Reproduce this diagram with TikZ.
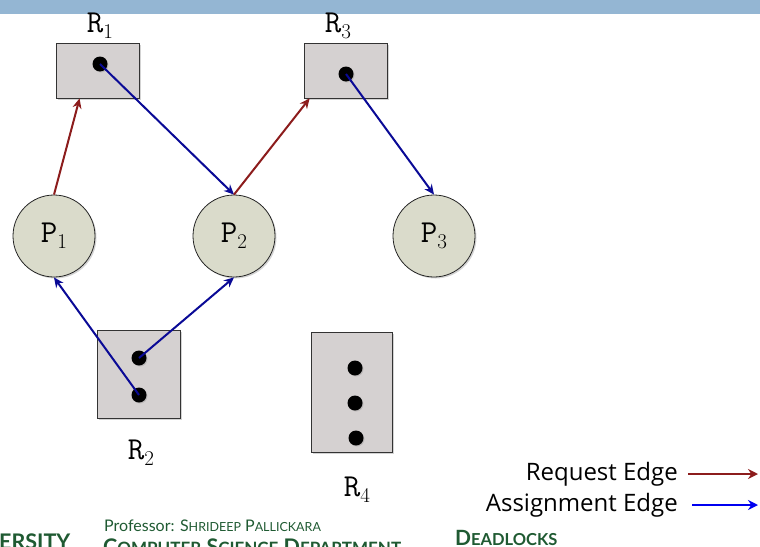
\documentclass[tikz,border=0pt]{standalone}
\usepackage{fontspec}
\newfontfamily\legendfont{Open Sans}
\newfontfamily\footfont{Lato}
\usetikzlibrary{arrows.meta,shadows}
\definecolor{barblue}{HTML}{94B6D3}
\definecolor{boxgray}{HTML}{D5D1D1}
\definecolor{procfill}{HTML}{DADBCB}
\definecolor{reqred}{HTML}{8C1C1C}
\definecolor{asgblue}{HTML}{0A0A96}
\definecolor{legblue}{HTML}{0000F0}
\definecolor{footgreen}{HTML}{1F5A32}
\newcommand{\lsub}[1]{\raisebox{-6pt}{\rmfamily\fontsize{21}{21}\selectfont #1}}
\tikzset{
  resbox/.style={draw=black!80, line width=0.8pt, fill=boxgray, inner sep=0pt,
    drop shadow={shadow xshift=1.5pt, shadow yshift=-1.5pt, opacity=0.35}},
  proc/.style={circle, draw=black!85, line width=0.8pt, fill=procfill, minimum size=82pt, inner sep=0pt,
    font=\ttfamily\fontsize{32}{32}\selectfont,
    drop shadow={shadow xshift=1.5pt, shadow yshift=-1.5pt, opacity=0.35}},
  inst/.style={circle, fill=black, minimum size=15pt, inner sep=0pt,
    drop shadow={shadow xshift=1pt, shadow yshift=-1pt, opacity=0.3}},
  rlabel/.style={font=\ttfamily\fontsize{32}{32}\selectfont, inner sep=0pt},
  reqedge/.style={draw=reqred, line width=2pt, -{Stealth[length=10pt,width=9pt]}},
  asgedge/.style={draw=asgblue, line width=2pt, -{Stealth[length=10pt,width=9pt]}},
  legtext/.style={font=\legendfont\fontsize{24}{24}\selectfont, anchor=east, inner sep=0pt},
  foot/.style={font=\footfont, text=footgreen, anchor=base west, inner sep=0pt}
}
\begin{document}
\begin{tikzpicture}[x=1pt,y=-1pt]
\useasboundingbox (0,0) rectangle (760,546);
\clip (0,0) rectangle (760,546);
% top bar
\fill[barblue] (0,0) rectangle (760,14);

% resources
\node[resbox, minimum width=83pt, minimum height=55pt] (R1) at (97.5,70.5) {};
\node[resbox, minimum width=83pt, minimum height=55pt] (R3) at (345.5,70.5) {};
\node[resbox, minimum width=83pt, minimum height=88pt] (R2) at (138.5,374) {};
\node[resbox, minimum width=81pt, minimum height=120pt] (R4) at (351.5,392) {};

\node[inst] (R1d) at (100,64) {};
\node[inst] (R3d) at (346,74) {};
\node[inst] (R2a) at (139,358) {};
\node[inst] (R2b) at (139,395) {};
\node[inst] (R4a) at (355,368) {};
\node[inst] (R4b) at (355,403) {};
\node[inst] (R4c) at (356,438) {};

\node[rlabel] (LR1) at (100,26) {R\lsub{1}};
\node[rlabel] (LR3) at (338,26) {R\lsub{3}};
\node[rlabel] (LR2) at (141,453) {R\lsub{2}};
\node[rlabel] (LR4) at (357,490) {R\lsub{4}};

% processes
\node[proc] (P1) at (54,236) {P\lsub{1}};
\node[proc] (P2) at (234,236) {P\lsub{2}};
\node[proc] (P3) at (434,236) {P\lsub{3}};

% edges
\draw[reqedge] (P1.north) -- ([xshift=24pt]R1.south west);
\draw[asgedge] (R1d.center) -- (P2.north);
\draw[reqedge] (P2.north) -- ([xshift=6pt]R3.south west);
\draw[asgedge] (R3d.center) -- (P3.north);
\draw[asgedge] (R2b.center) -- (P1.south);
\draw[asgedge] (R2a.center) -- (P2.south);

% legend
\node[legtext] (LReq) at (678,474) {Request Edge};
\node[legtext] (LAsg) at (678,505) {Assignment Edge};
\coordinate (ReqA) at (688,474);
\coordinate (ReqB) at (758,474);
\coordinate (AsgA) at (692,505);
\coordinate (AsgB) at (758,505);
\draw[draw=reqred, line width=2.2pt, -{Stealth[length=10pt,width=10pt]}] (ReqA) -- (ReqB);
\draw[draw=legblue, line width=2.2pt, -{Stealth[length=10pt,width=10pt]}] (AsgA) -- (AsgB);

% footer
\node[foot, font=\footfont\bfseries\fontsize{21.5}{21.5}\selectfont] (F1) at (-1,549) {ERSITY};
\node[foot, font=\footfont\fontsize{16}{16}\selectfont] (F2) at (104,531) {Professor: S{\fontsize{12.5}{12.5}\selectfont HRIDEEP} P{\fontsize{12.5}{12.5}\selectfont ALLICKARA}};
\node[foot, font=\footfont\bfseries\fontsize{21.5}{21.5}\selectfont] (F3) at (103,554) {C{\fontsize{17}{17}\selectfont OMPUTER} S{\fontsize{17}{17}\selectfont CIENCE} D{\fontsize{17}{17}\selectfont EPARTMENT}};
\node[foot, font=\footfont\bfseries\fontsize{21}{21}\selectfont] (F4) at (455,545) {D{\fontsize{16.5}{16.5}\selectfont EADLOCKS}};
\end{tikzpicture}
\end{document}
